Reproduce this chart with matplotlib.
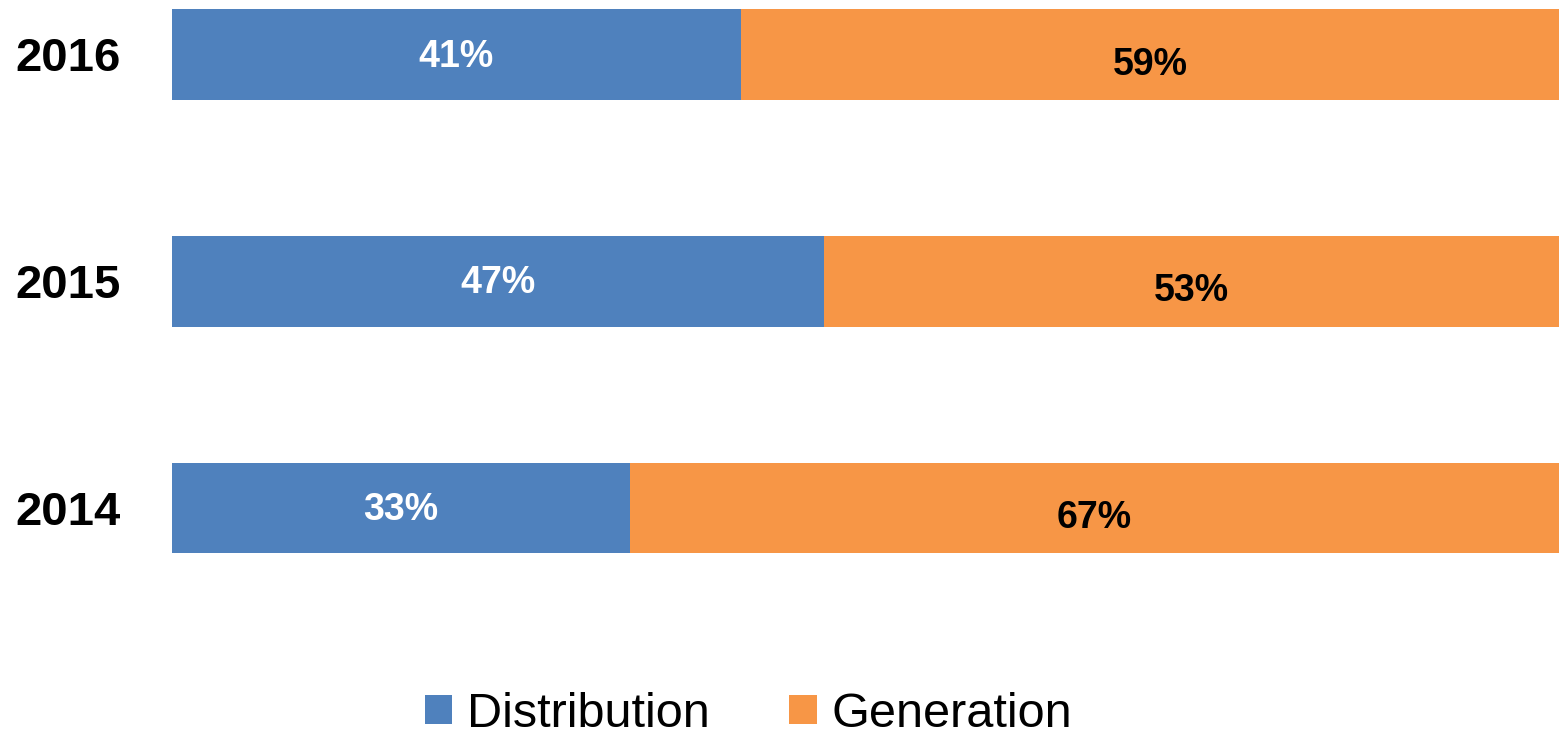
import matplotlib.pyplot as plt

# data
Years = ["2014", "2015", "2016"]
Distribution = [33, 47, 41]
Generation = [67, 53, 59]

BlueColour = "#4F81BD"
OrangeColour = "#F79646"

plt.rcParams['font.family'] = ['Liberation Sans', 'DejaVu Sans']

fig = plt.figure(figsize=(15.59, 7.41), dpi=100)
ax = fig.add_axes([172 / 1559, 0, 1 - 172 / 1559, 1])

pos = list(range(len(Years)))
ax.barh(pos, Distribution, height=0.4, color=BlueColour, label="Distribution")
ax.barh(pos, Generation, left=Distribution, height=0.4, color=OrangeColour, label="Generation")

for i in pos:
    ax.text(Distribution[i] / 2, i - 0.01, f"{Distribution[i]}%", color="white",
            fontsize=27, fontweight="bold", ha="center", va="center")
    ax.text(Distribution[i] + Generation[i] / 2, i - 0.045, f"{Generation[i]}%", color="black",
            fontsize=27, fontweight="bold", ha="center", va="center")

ax.set_xlim(0, 100)
ax.set_ylim(-1.028, 2.240)
ax.set_yticks(pos)
ax.set_yticklabels(Years, fontsize=34, fontweight="bold")
ax.tick_params(axis="y", length=0, pad=37)
ax.set_xticks([])
for s in ax.spines.values():
    s.set_visible(False)

fig.legend(loc="center", bbox_to_anchor=(0.480, 0.036), ncol=2, frameon=False,
           fontsize=35, handlelength=0.56, handleheight=0.56, handletextpad=0.3,
           columnspacing=1.65, borderaxespad=0, borderpad=0)

fig.savefig("out.png", dpi=100)
